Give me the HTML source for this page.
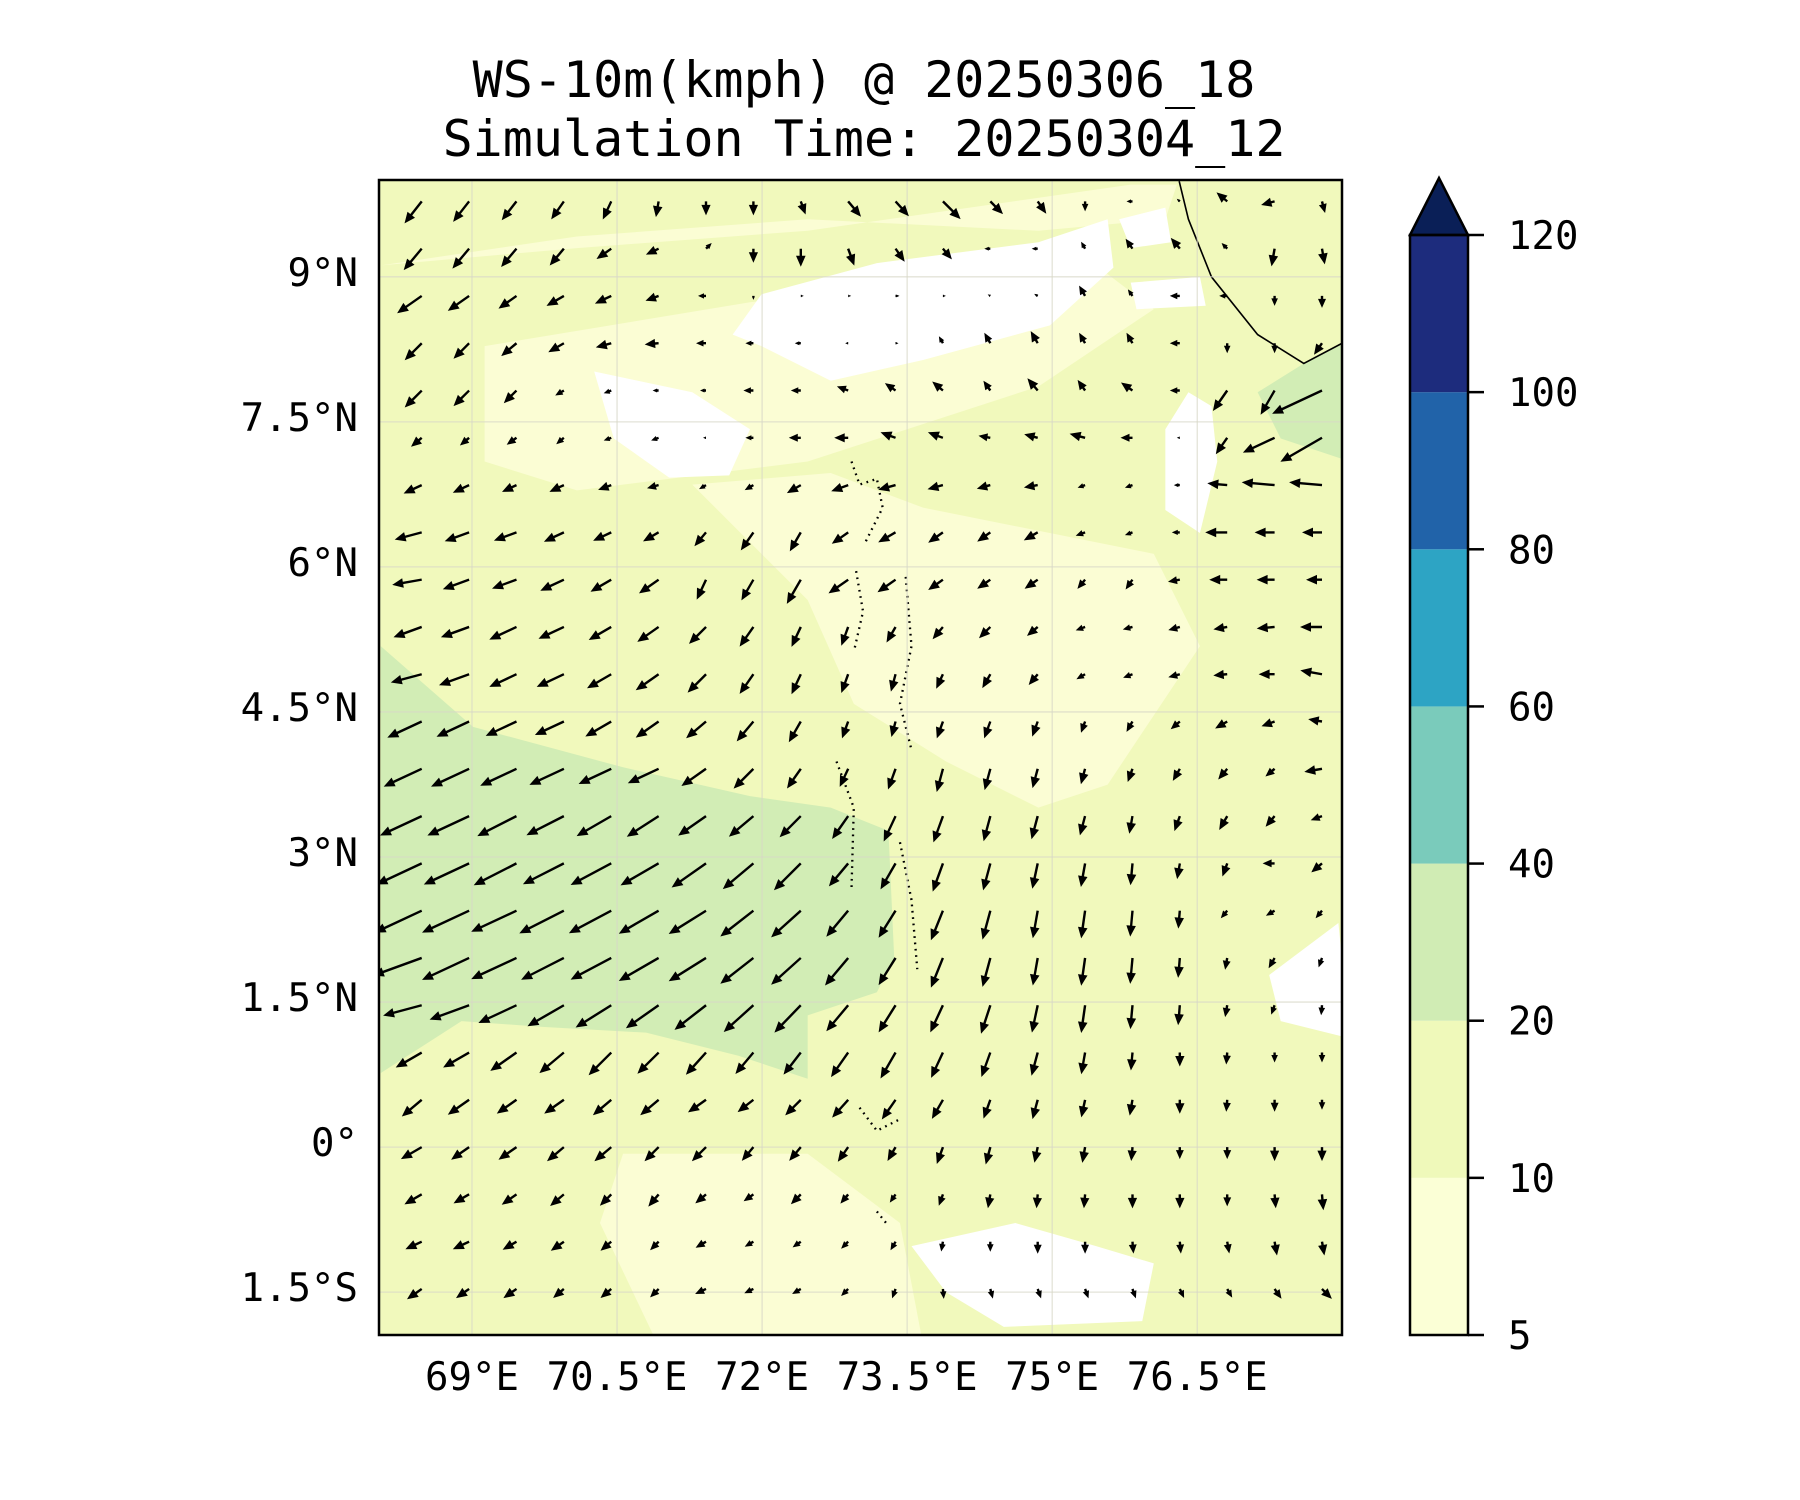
<!DOCTYPE html>
<html><head><meta charset="utf-8">
<style>
html,body{margin:0;padding:0;background:#fff;}
svg{display:block;}
text{font-family:"DejaVu Sans Mono","Liberation Mono",monospace;fill:#000;}
</style></head>
<body>
<svg id="chart" width="1800" height="1500" viewBox="0 0 1800 1500" xmlns="http://www.w3.org/2000/svg">
<defs><clipPath id="plotclip"><rect x="379" y="180" width="963" height="1155"/></clipPath></defs>
<text x="864" y="97" font-size="50" text-anchor="middle">WS-10m(kmph) @ 20250306_18</text>
<text x="864" y="156" font-size="50" text-anchor="middle">Simulation Time: 20250304_12</text>
<g clip-path="url(#plotclip)">
<rect x="379" y="180" width="963" height="1155" fill="#f1f9bc"/>
<g transform="scale(1.1538)">
<path d="M420,300 L650,262 L950,230 L1000,268 L900,335 L700,400 L500,425 L420,400 Z M600,420 L720,410 L800,440 L900,460 L1000,480 L1040,560 L1000,620 L960,680 L900,700 L820,660 L740,610 L700,520 Z M540,1000 L700,1000 L780,1060 L800,1165 L570,1165 L520,1060 Z M330,230 L500,215 L700,200 L980,160 L1020,160 L1010,190 L900,200 L700,190 L500,205 Z" fill="#fbfdd4"/>
<path d="M330,560 L410,630 L540,665 L650,690 L720,700 L770,720 L775,830 L760,860 L700,880 L700,935 L640,915 L560,895 L470,890 L400,885 L330,930 Z M1090,340 L1130,315 L1170,295 L1170,400 L1110,380 Z" fill="#d2edb5"/>
<path d="M660,255 L760,228 L900,210 L960,190 L965,232 L910,282 L800,312 L720,330 L660,300 L635,290 Z M515,322 L600,340 L650,372 L632,412 L580,414 L532,380 Z M1010,372 L1030,340 L1050,352 L1055,400 L1040,462 L1010,442 Z M790,1080 L880,1060 L950,1080 L1000,1095 L990,1145 L870,1150 L820,1120 Z M1100,845 L1160,800 L1170,900 L1110,885 Z M970,190 L1010,180 L1015,210 L980,215 Z M980,245 L1040,240 L1045,265 L985,268 Z" fill="#ffffff"/>
<path d="M1022,157 L1030,190 L1050,240 L1090,290 L1130,315 L1168,295" fill="none" stroke="#000" stroke-width="1.4"/>
<path d="M738,400 L745,420 L760,415 L765,440 L750,470 M742,495 L748,530 L740,565 M785,500 L790,560 L780,610 L790,650 M725,660 L740,700 L738,770 M780,730 L790,780 L795,840 M745,960 L760,980 L780,970 M760,1050 L768,1060" fill="none" stroke="#000" stroke-width="2" stroke-dasharray="1.5 4"/>
</g>
<g id="gridlines"></g>
<g id="arrows"></g>
</g>
<rect x="379" y="180" width="963" height="1155" fill="none" stroke="#000" stroke-width="2.5"/>
<g id="axes"></g>
<g id="cbar"></g>
</svg>
<script>
const lonTicks = [69, 70.5, 72, 73.5, 75, 76.5];
const lonLabels = ["69°E", "70.5°E", "72°E", "73.5°E", "75°E", "76.5°E"];
const latTicks = [9, 7.5, 6, 4.5, 3, 1.5, 0, -1.5];
const latLabels = ["9°N", "7.5°N", "6°N", "4.5°N", "3°N", "1.5°N", "0°", "1.5°S"];
const cbarLevels = [5, 10, 20, 40, 60, 80, 100, 120];
const cbarColors = ["#fbffd6", "#eff9ba", "#d0ecb4", "#7acbbb", "#2da4c4", "#2163a9", "#1d2c7d"];
const cbarExtendColor = "#0a1f57";
const lonStart = 68.48, lonStep = 0.49, latStart = 9.78, latStep = 0.489;
// wind direction (degrees, 0=east, CCW) per row, 20 columns each
const ang = [
[232,232,232,235,245,260,270,270,290,310,312,315,315,305,270,180,140,140,195,285],
[230,230,230,230,215,205,45,270,270,290,305,310,180,180,120,125,130,135,260,280],
[215,215,215,210,205,200,180,270,0,0,0,0,150,150,120,125,180,180,270,270],
[225,225,220,210,195,185,180,180,180,180,0,120,120,120,120,120,180,270,270,235],
[225,225,225,210,200,180,180,180,180,160,145,140,125,130,125,145,180,235,240,205],
[220,220,215,220,200,200,180,180,180,180,160,160,170,165,165,180,180,235,205,210],
[205,205,205,205,200,195,210,210,210,200,195,195,195,190,200,200,180,175,175,175],
[195,200,200,205,205,210,230,235,240,215,210,215,215,210,200,200,180,180,180,180],
[190,200,200,205,210,215,245,240,240,215,215,215,215,215,230,235,190,180,180,180],
[200,200,205,205,210,215,225,235,245,250,240,230,225,220,200,195,195,190,185,180],
[195,200,205,205,210,215,225,235,245,250,255,245,240,230,210,200,195,185,180,170],
[205,205,205,205,210,215,220,230,240,250,255,250,250,250,250,240,220,210,200,170],
[205,205,205,205,205,205,215,225,235,245,250,255,255,255,255,250,240,230,220,190],
[205,205,207,207,210,213,215,220,225,235,245,250,255,255,255,260,250,240,230,200],
[205,205,207,207,208,210,215,220,225,230,240,250,255,258,260,265,260,250,180,220],
[205,205,205,207,208,210,212,218,222,230,238,248,255,260,262,265,265,230,210,230],
[200,205,205,207,208,210,212,218,222,230,238,248,255,260,262,265,265,260,240,250],
[195,200,205,210,212,215,218,222,226,230,238,245,252,258,262,265,265,260,250,265],
[210,210,215,220,225,225,228,230,232,235,240,245,250,255,260,265,270,265,270,270],
[220,215,215,215,220,220,215,218,225,228,235,240,250,255,258,260,270,265,270,270],
[210,215,215,220,220,225,225,230,230,235,240,250,255,258,260,265,270,270,270,270],
[210,210,215,220,225,230,220,215,225,230,235,250,260,265,265,270,270,270,275,275],
[205,205,210,215,220,225,210,210,215,225,240,260,270,270,270,275,275,280,280,280],
[215,215,215,220,220,225,205,205,210,225,250,275,285,290,290,290,295,300,305,315]
];
// arrow length (px, proportional to wind speed) per row
const spd = [
[28,26,24,22,20,16,14,14,14,20,20,25,18,15,10,6,4,14,14,12],
[28,26,24,22,18,14,8,14,18,18,16,14,6,6,8,12,14,8,18,16],
[30,26,22,20,18,14,8,4,3,3,4,3,3,4,12,8,10,8,10,12],
[24,22,20,18,16,14,10,8,6,3,3,8,12,14,12,12,10,10,10,14],
[24,22,18,10,8,6,6,10,10,12,13,14,12,16,13,14,10,25,28,55],
[14,12,12,10,8,8,3,8,12,14,16,16,12,14,16,12,3,20,35,48],
[20,18,16,16,14,12,8,10,16,18,18,16,14,14,8,8,6,20,33,33],
[28,26,24,22,20,18,18,22,22,20,20,18,16,16,10,8,8,22,20,20],
[30,28,26,26,24,24,22,24,28,24,22,18,16,16,12,12,12,18,18,16],
[30,30,30,28,26,26,24,24,22,20,18,16,16,14,10,10,12,14,18,22],
[32,32,30,30,28,28,26,24,22,20,18,16,16,14,10,10,12,14,16,22],
[38,36,34,32,30,28,26,26,24,18,16,18,18,16,12,12,12,14,14,14],
[42,42,40,38,36,34,30,28,24,20,22,24,22,20,16,14,14,14,12,18],
[46,46,44,42,40,38,34,32,30,28,28,28,26,24,20,18,16,16,14,12],
[50,50,48,46,46,44,42,40,38,30,30,30,28,26,24,22,16,14,12,14],
[52,52,50,50,48,46,44,42,40,34,32,32,30,28,28,26,18,10,10,10],
[52,52,50,48,46,46,44,42,40,36,32,32,30,28,28,26,20,12,12,10],
[40,42,42,42,42,40,40,40,38,34,32,30,30,28,28,24,20,12,10,10],
[30,30,32,32,32,30,30,28,28,30,30,28,26,24,22,18,14,12,10,10],
[26,26,24,24,24,24,22,20,22,24,24,22,20,20,18,16,14,12,12,10],
[24,22,22,22,22,20,20,18,18,18,16,18,18,16,16,14,12,12,14,14],
[20,18,18,18,16,16,14,12,14,12,10,12,14,14,14,14,14,12,14,16],
[18,18,16,16,14,12,12,10,10,10,10,10,10,12,12,12,12,12,14,14],
[18,16,16,14,14,12,12,10,10,10,10,10,10,10,10,10,10,10,12,14]
];
const NS = "http://www.w3.org/2000/svg";
function xScale(lon){ return 472 + (lon - 69) * 96.7; }
function yScale(lat){ return 857 - (lat - 3) * 96.7; }
const cbTop = 235, cbBot = 1335, cbX = 1410, cbW = 58;
function cbY(i){ return cbBot - i * (cbBot - cbTop) / (cbarLevels.length - 1); }
function mk(tag, attrs){ const e = document.createElementNS(NS, tag); for (const k in attrs) e.setAttribute(k, attrs[k]); return e; }

const grid = document.getElementById('gridlines');
const axes = document.getElementById('axes');
lonTicks.forEach((lon, i) => {
  const x = xScale(lon);
  const gl = mk('line', {x1:x, x2:x, y1:180, y2:1335, stroke:'#d8d8c8', 'stroke-width':1.3, opacity:0.7});
  
  
  grid.appendChild(gl);
  const t = mk('text', {x:x, y:1390, 'font-size':39, 'text-anchor':'middle'});
  t.textContent = lonLabels[i];
  
  
  axes.appendChild(t);
});
latTicks.forEach((lat, i) => {
  const y = yScale(lat);
  const gl = mk('line', {x1:379, x2:1342, y1:y, y2:y, stroke:'#d8d8c8', 'stroke-width':1.3, opacity:0.7});
  
  
  grid.appendChild(gl);
  const t = mk('text', {x:358, y:y + 9, 'font-size':39, 'text-anchor':'end'});
  t.textContent = latLabels[i];
  
  
  axes.appendChild(t);
});

const arrows = document.getElementById('arrows');
ang.forEach((row, i) => {
  const y0 = yScale(latStart - i * latStep);
  row.forEach((a, j) => {
    const x0 = xScale(lonStart + j * lonStep);
    const L = spd[i][j];
    const r = a * Math.PI / 180, ux = Math.cos(r), uy = -Math.sin(r);
    const px = -uy, py = ux;
    const hl = Math.min(11, L * 0.75), hw = Math.min(4.8, L * 0.33), sw = 1.2;
    const tx = x0 + ux * L, ty = y0 + uy * L;
    const bx = tx - ux * hl, by = ty - uy * hl;
    const pts = [
      [x0 + px*sw, y0 + py*sw], [bx + px*sw, by + py*sw], [bx + px*hw, by + py*hw],
      [tx, ty], [bx - px*hw, by - py*hw], [bx - px*sw, by - py*sw], [x0 - px*sw, y0 - py*sw]
    ].map(p => p[0].toFixed(1) + ',' + p[1].toFixed(1)).join(' ');
    const poly = mk('polygon', {points: pts, fill: '#000'});
    
    
    arrows.appendChild(poly);
  });
});

const cbar = document.getElementById('cbar');
cbarColors.forEach((c, i) => {
  const y1 = cbY(i + 1), y0 = cbY(i);
  const r = mk('rect', {x:cbX, y:y1, width:cbW, height:y0 - y1, fill:c});
  
  
  cbar.appendChild(r);
});
const ext = mk('polygon', {points: `${cbX},${cbTop} ${cbX + cbW/2},178 ${cbX + cbW},${cbTop}`, fill: cbarExtendColor, stroke:'#000', 'stroke-width':2.5, 'stroke-linejoin':'miter'});


cbar.appendChild(ext);
const frame = mk('rect', {x:cbX, y:cbTop, width:cbW, height:cbBot - cbTop, fill:'none', stroke:'#000', 'stroke-width':2.5});


cbar.appendChild(frame);
cbarLevels.forEach((v, i) => {
  const y = cbY(i);
  const tk = mk('line', {x1:cbX + cbW, x2:cbX + cbW + 16, y1:y, y2:y, stroke:'#000', 'stroke-width':2.5});
  
  
  cbar.appendChild(tk);
  const t = mk('text', {x:1508, y:y + 14, 'font-size':39});
  t.textContent = v;
  
  
  cbar.appendChild(t);
});
</script>
</body></html>
